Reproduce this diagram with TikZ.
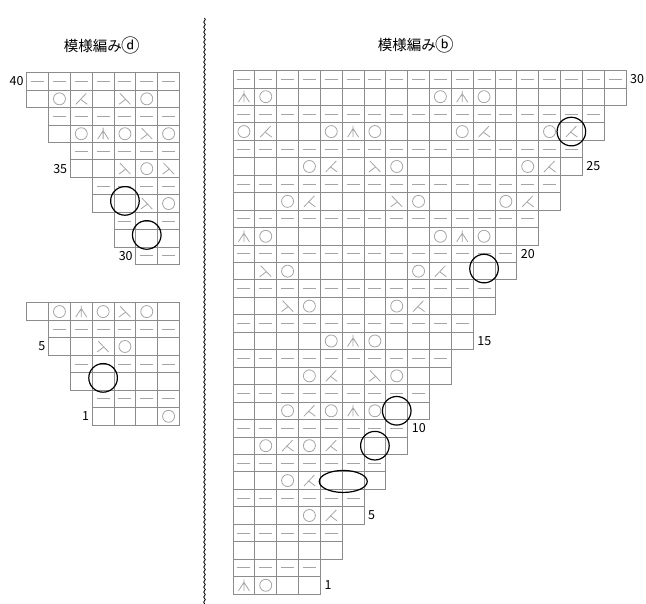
\documentclass[tikz,border=0pt]{standalone}
\usepackage{fontspec}
\setmainfont{Noto Sans CJK JP}
\usetikzlibrary{positioning, decorations.pathmorphing}
\definecolor{gridGray}{RGB}{140,140,140}
\definecolor{symGray}{RGB}{165,165,165}
\newcommand{\letraMarca}[1]{\raisebox{-0.8pt}{\fontsize{18.5}{19}\selectfont #1}}

\begin{document}
\begin{tikzpicture}[
    x=1pt, y=1pt,
    celda/.style={
        draw=gridGray,
        line width=0.8pt
    },
    simbolo/.style={
        draw=symGray,
        line width=0.8pt
    },
    marca/.style={
        draw=black,
        line width=1.2pt
    },
    numero/.style={
        font=\fontsize{12.5}{14}\selectfont,
        inner sep=0pt
    },
    titulo/.style={
        font=\fontsize{14.5}{17}\selectfont,
        inner sep=0pt
    },
    pics/purl/.style={code={\draw[simbolo, pic actions] (-6.5pt,0pt) -- (6.5pt,0pt);}},
    pics/yo/.style={code={\draw[simbolo, pic actions] (0pt,0pt) circle (6pt);}},
    pics/kl/.style={code={\draw[simbolo, pic actions] (-5.5pt,-5.5pt) -- (5pt,5.5pt) (-0.6pt,-0.6pt) -- (6pt,-5.5pt);}},
    pics/kr/.style={code={\draw[simbolo, pic actions] (5.5pt,-5.5pt) -- (-5pt,5.5pt) (0.6pt,-0.6pt) -- (-6pt,-5.5pt);}},
    pics/cdd/.style={code={\draw[simbolo, pic actions] (0pt,6pt) -- (0pt,-5.5pt) (-5.5pt,-5.5pt) -- (0pt,3pt) -- (5.5pt,-5.5pt);}}
]
\useasboundingbox (0,0) rectangle (646,-604);

% titulos
\node[titulo] (tituloD) at (102,-45) {模様編み\letraMarca{ⓓ}};
\node[titulo] (tituloB) at (416,-44) {模様編み\letraMarca{ⓑ}};

% linea de corte
\draw[decorate, decoration={snake, segment length=5pt, amplitude=0.8pt}, line width=0.8pt] (204.5,-18) -- (204.5,-604);

% grafico d, filas 30 a 40
\begin{scope}[shift={(26.7pt,-264.6pt)}, x=21.83pt, y=17.45pt]
  \foreach \i in {1,...,11}{
    \pgfmathtruncatemacro\ini{6-floor(\i/2)}
    \foreach \c in {\ini,...,7}{
      \draw[celda] (\c-1,\i-1) rectangle (\c,\i);
      \ifodd\i \pic at (\c-0.5,\i-0.5) {purl};\fi
    }
  }
  \foreach \c/\i in {2/10, 6/10, 3/8, 5/8, 7/8, 6/6, 7/4} \pic at (\c-0.5,\i-0.5) {yo};
  \foreach \c/\i in {3/10} \pic at (\c-0.5,\i-0.5) {kl};
  \foreach \c/\i in {5/10, 6/8, 5/6, 7/6, 6/4} \pic at (\c-0.5,\i-0.5) {kr};
  \foreach \c/\i in {4/8} \pic at (\c-0.5,\i-0.5) {cdd};
  \draw[marca] (4.5,3.65) circle (14.3pt);
  \draw[marca] (5.5,1.7) circle (14.3pt);
  \node[numero, anchor=east] (n40) at ([xshift=-3pt]0,10.5) {40};
  \node[numero, anchor=east] (n35) at ([xshift=-3pt]2,5.5) {35};
  \node[numero, anchor=east] (n30) at ([xshift=-3pt]5,0.5) {30};
\end{scope}

% grafico d, filas 1 a 7
\begin{scope}[shift={(26.7pt,-425pt)}, x=21.83pt, y=17.45pt]
  \foreach \r in {1,...,7}{
    \pgfmathtruncatemacro\ini{4-floor((\r-1)/2)}
    \foreach \c in {\ini,...,7}{
      \draw[celda] (\c-1,\r-1) rectangle (\c,\r);
      \ifodd\r\else \pic at (\c-0.5,\r-0.5) {purl};\fi
    }
  }
  \foreach \c/\r in {2/7, 4/7, 6/7, 5/5, 7/1} \pic at (\c-0.5,\r-0.5) {yo};
  \foreach \c/\r in {5/7, 4/5} \pic at (\c-0.5,\r-0.5) {kr};
  \foreach \c/\r in {3/7} \pic at (\c-0.5,\r-0.5) {cdd};
  \draw[marca] (3.5,2.7) circle (14.3pt);
  \node[numero, anchor=east] (n5d) at ([xshift=-3pt]1,4.5) {5};
  \node[numero, anchor=east] (n1d) at ([xshift=-3pt]3,0.5) {1};
\end{scope}

% grafico b, filas 1 a 30
\begin{scope}[shift={(233pt,-594pt)}, x=21.83pt, y=17.45pt]
  \foreach \r in {1,...,30}{
    \pgfmathtruncatemacro\fin{floor((\r+1)/2)+3}
    \foreach \c in {1,...,\fin}{
      \draw[celda] (\c-1,\r-1) rectangle (\c,\r);
      \ifodd\r\else \pic at (\c-0.5,\r-0.5) {purl};\fi
    }
  }
  \foreach \c/\r in {2/1, 4/5, 3/7, 2/9, 4/9, 3/11, 5/11, 7/11, 4/13, 8/13, 5/15, 7/15,
      4/17, 8/17, 3/19, 9/19, 2/21, 10/21, 12/21, 3/23, 9/23, 13/23, 4/25, 8/25, 14/25,
      1/27, 5/27, 7/27, 11/27, 15/27, 2/29, 10/29, 12/29} \pic at (\c-0.5,\r-0.5) {yo};
  \foreach \c/\r in {5/5, 4/7, 3/9, 5/9, 4/11, 5/13, 9/17, 10/19, 4/23, 14/23, 5/25, 15/25,
      2/27, 12/27} \pic at (\c-0.5,\r-0.5) {kl};
  \foreach \c/\r in {7/13, 3/17, 2/19, 8/23, 7/25} \pic at (\c-0.5,\r-0.5) {kr};
  \foreach \c/\r in {1/1, 6/11, 6/15, 1/21, 11/21, 6/27, 1/29, 11/29} \pic at (\c-0.5,\r-0.5) {cdd};
  \pic[draw=black] at (15.5,26.5) {kl};
  % marcas
  \draw[marca] (15.5,26.5) circle (14.3pt);
  \draw[marca] (11.5,18.65) circle (14.3pt);
  \draw[marca] (7.5,10.5) circle (14.3pt);
  \draw[marca] (6.5,8.5) circle (14.3pt);
  \draw[marca] (5.05,6.45) ellipse (24pt and 11pt);
  % numeros de fila
  \node[numero, anchor=west] (n30b) at ([xshift=4pt]18,29.5) {30};
  \node[numero, anchor=west] (n25b) at ([xshift=4pt]16,24.5) {25};
  \node[numero, anchor=west] (n20b) at ([xshift=4pt]13,19.5) {20};
  \node[numero, anchor=west] (n15b) at ([xshift=4pt]11,14.5) {15};
  \node[numero, anchor=west] (n10b) at ([xshift=4pt]8,9.5) {10};
  \node[numero, anchor=west] (n5b) at ([xshift=4pt]6,4.5) {5};
  \node[numero, anchor=west] (n1b) at ([xshift=4pt]4,0.5) {1};
\end{scope}

\end{tikzpicture}
\end{document}
